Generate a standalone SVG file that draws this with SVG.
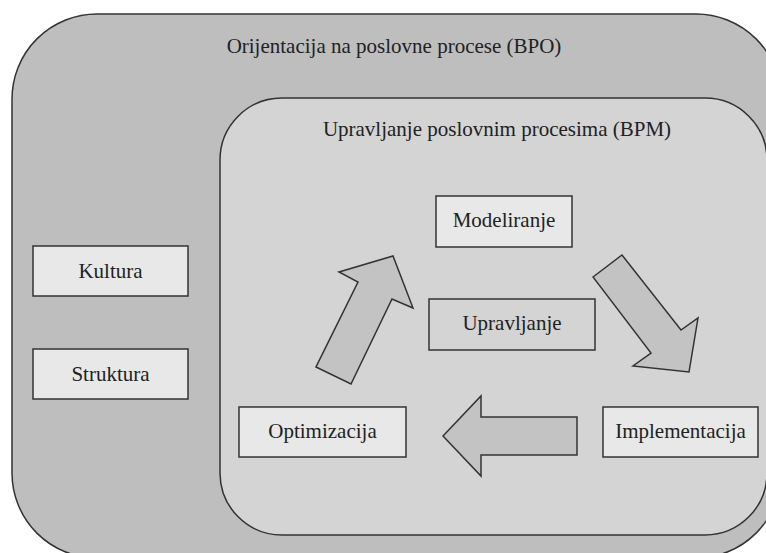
<svg xmlns="http://www.w3.org/2000/svg" width="766" height="553" viewBox="0 0 766 553">
<style>
  .frame { stroke: #333; stroke-width: 1.5; }
  .box { fill: #e8e8e8; stroke: #333; stroke-width: 1.5; }
  .box2 { fill: #d4d4d4; stroke: #333; stroke-width: 1.5; }
  .arrow { fill: #c3c3c3; stroke: #333; stroke-width: 1.5; stroke-linejoin: miter; }
  text { font-family: "Liberation Serif", "Times New Roman", serif; font-size: 21px; fill: #222; text-anchor: middle; }
</style>
<rect width="766" height="553" fill="#ffffff"/>
<g id="bpo">
  <rect class="frame" x="12" y="14" width="769" height="544" rx="85" ry="85" fill="#bebebe"/>
  <text x="394" y="53">Orijentacija na poslovne procese (BPO)</text>
</g>
<g id="bpm">
  <rect class="frame" x="220" y="98" width="547" height="437" rx="62" ry="62" fill="#d4d4d4"/>
  <text x="497" y="136">Upravljanje poslovnim procesima (BPM)</text>
</g>
<g id="kultura">
  <rect class="box" x="33" y="246" width="155" height="50"/>
  <text x="110.5" y="278">Kultura</text>
</g>
<g id="struktura">
  <rect class="box" x="33" y="349" width="155" height="50"/>
  <text x="110.5" y="381">Struktura</text>
</g>
<g id="modeliranje">
  <rect class="box" x="436" y="196" width="136" height="51"/>
  <text x="504" y="227">Modeliranje</text>
</g>
<g id="upravljanje">
  <rect class="box2" x="429" y="299" width="166" height="51"/>
  <text x="512" y="330">Upravljanje</text>
</g>
<g id="optimizacija">
  <rect class="box" x="239" y="407" width="167" height="50"/>
  <text x="322.5" y="438">Optimizacija</text>
</g>
<g id="implementacija">
  <rect class="box" x="603" y="407" width="155" height="50"/>
  <text x="680.5" y="438">Implementacija</text>
</g>
<g id="connectors">
  <polygon class="arrow" points="316,367 351,384 392,299 413,308 393,256 339,272 358,282"/>
  <polygon class="arrow" points="593,277 622,255 681,330 698,318 689,372 633,366 651,353"/>
  <polygon class="arrow" points="443,436 481,396 481,417 577,417 577,455 481,455 481,476"/>
</g>
</svg>
